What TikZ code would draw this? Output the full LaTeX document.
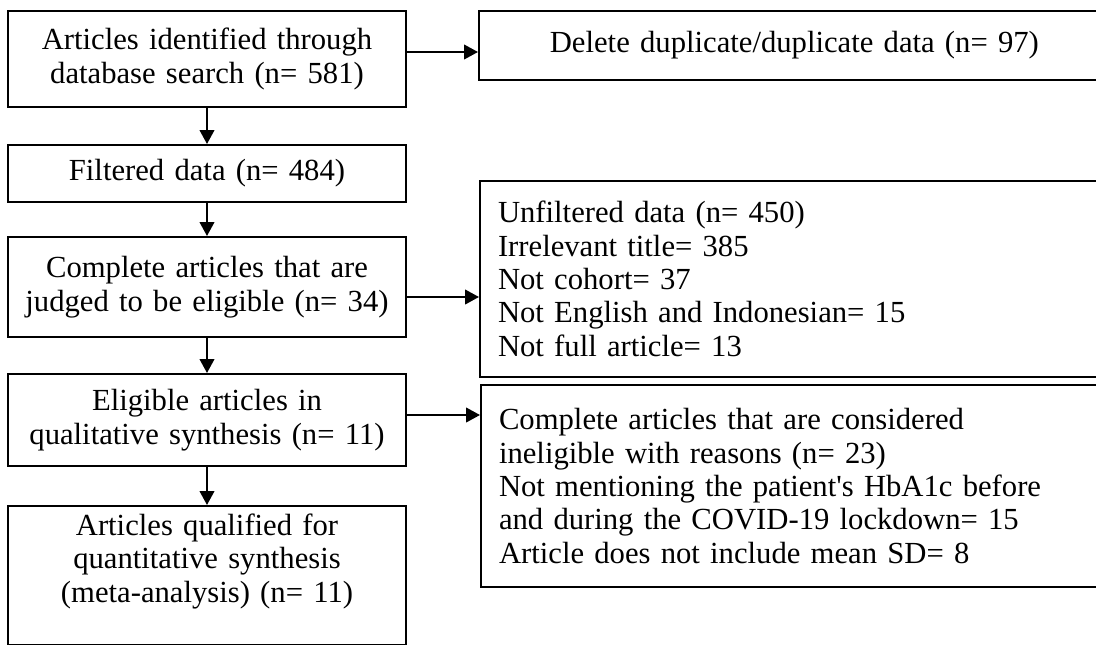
\documentclass[tikz,border=0pt]{standalone}
\usepackage{fontspec}
\setmainfont{Liberation Serif}
\usetikzlibrary{arrows.meta}

\begin{document}
\begin{tikzpicture}[x=0.75pt,y=-0.75pt,
    box/.style={draw, rectangle, line width=1.5pt, font=\fontsize{23}{25}\selectfont, inner sep=0pt},
    mid/.style={box, align=center, text width=285pt, minimum width=298.5pt},
    side/.style={box, align=left, anchor=west, text width=446pt, inner xsep=13.5pt},
    flow/.style={-{Triangle[length=10.5pt,width=11pt]}, line width=1.5pt}]
\useasboundingbox (0,0) rectangle (1096,644);
\clip (0,0) rectangle (1096,644);

% left column
\node[mid, minimum height=72pt] (search) at (207,59) {Articles identified through\\database search (n= 581)};
\node[mid, minimum height=42.75pt] (filtered) at (207,173.5) {Filtered data (n= 484)};
\node[mid, minimum height=75pt] (complete) at (207,287) {Complete articles that are\\judged to be eligible (n= 34)};
\node[mid, minimum height=69pt] (eligible) at (207,420) {Eligible articles in\\qualitative synthesis (n= 11)};
\node[mid, anchor=north, inner ysep=6pt, text depth=76pt] (qualified) at (207,505) {Articles qualified for\\quantitative synthesis\\(meta-analysis) (n= 11)};

% right column
\node[side, align=center, minimum height=51.75pt] (duplicate) at (478,45.5) {Delete duplicate/duplicate data (n= 97)};
\node[side, minimum height=147pt] (unfiltered) at (479,279) {Unfiltered data (n= 450)\\Irrelevant title= 385\\Not cohort= 37\\Not English and Indonesian= 15\\Not full article= 13};
\node[side, minimum height=151.5pt] (ineligible) at (480,486) {Complete articles that are considered\\ineligible with reasons (n= 23)\\Not mentioning the patient\textquotesingle s HbA1c before\\and during the COVID-19 lockdown= 15\\Article does not include mean SD= 8};

% arrows
\draw[flow] (search) -- (filtered);
\draw[flow] (filtered) -- (complete);
\draw[flow] (complete) -- (eligible);
\draw[flow] (eligible) -- (qualified);
\draw[flow] ([yshift=5.25pt]search.east) -- ([yshift=5.25pt]search.east -| duplicate.west);
\draw[flow] ([yshift=-7.5pt]complete.east) -- ([yshift=-7.5pt]complete.east -| unfiltered.west);
\draw[flow] ([yshift=3.75pt]eligible.east) -- ([yshift=3.75pt]eligible.east -| ineligible.west);
\end{tikzpicture}
\end{document}
